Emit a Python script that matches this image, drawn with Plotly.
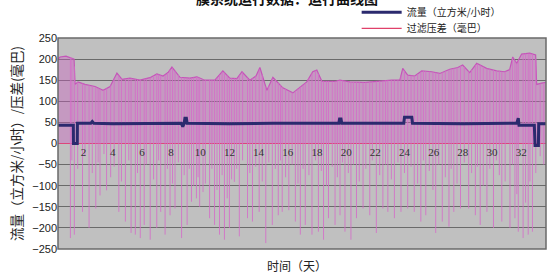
import numpy as np
import plotly.graph_objects as go

# ---- data ----
x_ticks = [2, 4, 6, 8, 10, 12, 14, 16, 18, 20, 22, 24, 26, 28, 30, 32]
y_ticks = [250, 200, 150, 100, 50, 0, -50, -100, -150, -200, -250]

flow_day = [0.25, 1.0, 1.30, 1.31, 1.57, 1.58, 2.5, 2.6, 2.7, 4.0, 6.0, 8.7, 8.8, 8.9, 8.95, 9.05,
            9.1, 12.0, 15.0, 19.5, 19.55, 19.65, 19.7, 23.95, 24.0, 24.5, 24.55, 28.0, 31.7, 31.75,
            31.8, 31.85, 32.9, 32.95, 33.18, 33.2, 33.7]
flow_val = [43, 43, 43, 0, 0, 48, 48, 52, 48, 47, 48, 48, 40, 48, 60, 60,
            48, 47, 48, 48, 58, 58, 48, 48, 62, 62, 48, 47, 48, 60,
            60, 43, 43, -5, -5, 47, 47]

dp_day = [0.25, 0.39, 0.8, 1.21, 1.35, 1.42, 1.62, 2.1, 2.79, 3.34, 3.82, 4.29, 4.64, 5.18, 5.87,
          6.55, 7.03, 7.45, 7.79, 8.06, 8.34, 8.61, 9.29, 9.77, 10.32, 11.0, 11.55, 12.03, 12.51,
          12.86, 13.4, 13.82, 14.09, 14.36, 14.57, 14.98, 15.66, 16.35, 16.83, 17.3, 17.71, 17.99,
          18.33, 19.22, 19.57, 20.25, 21.28, 22.31, 23.13, 23.68, 23.88, 24.22, 24.7, 25.18, 25.87,
          26.42, 27.1, 27.65, 27.99, 28.47, 28.95, 29.63, 30.32, 30.86, 31.21, 31.42, 31.69, 32.03,
          32.58, 32.99, 33.06, 33.4, 33.68]
dp_val = [200, 205, 207, 203, 200, 140, 146, 140, 135, 126, 135, 167, 152, 155, 150,
          156, 165, 160, 168, 181, 170, 157, 155, 158, 150, 150, 172, 155, 154,
          170, 150, 160, 180, 150, 126, 157, 132, 120, 134, 146, 170, 174,
          148, 147, 150, 146, 145, 148, 150, 150, 178, 162, 160, 172, 170,
          166, 176, 180, 186, 168, 190, 178, 172, 170, 175, 205, 190, 212,
          214, 210, 140, 143, 145]

spike_day = [1.1, 1.37, 1.93, 2.38, 2.84, 3.13, 3.58, 3.86, 4.42, 4.87, 5.26, 5.55, 5.89, 6.16,
             6.57, 7.02, 7.29, 7.59, 7.93, 8.27, 8.72, 9.1, 9.4, 9.74, 9.96, 10.19, 10.64, 10.98,
             11.32, 11.66, 12.0, 12.34, 12.68, 13.24, 13.58, 14.04, 14.49, 14.94, 15.35, 15.62,
             16.07, 16.52, 16.86, 17.2, 17.66, 18.1, 18.45, 18.79, 19.24, 19.58, 19.92, 20.33,
             20.71, 21.16, 21.62, 22.07, 22.52, 22.86, 23.31, 23.76, 24.22, 24.67, 25.12, 25.46,
             26.14, 26.59, 27.05, 27.38, 27.84, 28.4, 28.86, 29.19, 29.65, 30.1, 30.67, 31.23,
             31.57, 31.8, 32.13, 32.48, 32.77,
             1.2, 1.6, 2.1, 2.6, 3.0, 3.4, 4.1, 4.6, 5.1, 5.7, 6.3, 6.8, 7.15, 7.75, 8.1, 8.5,
             8.9, 9.25, 9.55, 9.85, 10.35, 10.8, 11.15, 11.5, 11.85, 12.15, 12.5, 12.9, 13.4,
             13.8, 14.25, 14.7, 15.15, 15.5, 15.85, 16.3, 16.7, 17.05, 17.45, 17.9, 18.3, 18.65,
             19.05, 19.4, 19.75, 20.15, 20.5, 20.9, 21.35, 21.8, 22.3, 22.7, 23.1, 23.55, 24.0,
             24.45, 24.9, 25.3, 25.7, 25.95, 26.35, 26.8, 27.2, 27.6, 28.1, 28.6, 29.0, 29.4,
             29.85, 30.3, 30.5, 30.9, 31.4, 31.7, 32.3, 32.6, 33.0, 33.3, 33.55]
spike_low = [-224, -216, -162, -200, -154, -123, -111, -80, -162, -185, -212, -216, -224, -193,
             -228, -200, -162, -216, -170, -154, -224, -193, -138, -130, -150, -115, -177, -193,
             -216, -228, -200, -91, -220, -177, -185, -162, -236, -193, -170, -162,
             -158, -185, -216, -193, -216, -209, -228, -177, -193, -170, -209, -228,
             -177, -154, -170, -212, -154, -162, -177, -162, -154, -162, -185, -170,
             -212, -185, -197, -162, -154, -154, -170, -193, -162, -200, -185, -200,
             -177, -209, -224, -216, -209,
             -40, -60, -30, -70, -45, -25, -55, -90, -40, -70, -50, -85, -40, -60, -95, -45,
             -75, -60, -100, -80, -95, -60, -110, -75, -130, -85, -60, -40, -70,
             -55, -90, -45, -60, -40, -80, -50, -95, -60, -75, -40, -65, -100,
             -55, -80, -45, -70, -50, -90, -60, -40, -75, -50, -85, -45, -70,
             -55, -95, -40, -65, -110, -50, -80, -60, -95, -45, -70, -55, -100,
             -60, -40, -75, -90, -50, -120, -140, -90, -70, -30, -50]

# spike segments start at the pressure curve and go down to the low value
spike_top = np.interp(spike_day, dp_day, dp_val)
sx, sy = [], []
for d, t, lo in zip(spike_day, spike_top, spike_low):
    sx += [d, d, None]
    sy += [t, lo, None]

fig = go.Figure()

# filled band under the pressure curve
fig.add_trace(go.Scatter(x=dp_day, y=dp_val, mode="lines", fill="tozeroy",
                         fillcolor="rgba(205,95,195,0.40)",
                         line=dict(color="#c455b8", width=1.2), showlegend=False,
                         hoverinfo="skip"))
# spikes
fig.add_trace(go.Scatter(x=sx, y=sy, mode="lines",
                         line=dict(color="rgba(212,110,200,0.85)", width=1),
                         showlegend=False, hoverinfo="skip"))
# flow
fig.add_trace(go.Scatter(x=flow_day, y=flow_val, mode="lines", name="流量（立方米/小时）",
                         line=dict(color="#2b2a6e", width=3), legend="legend"))
# legend entry for pressure difference
fig.add_trace(go.Scatter(x=[None], y=[None], mode="lines", name="过滤压差（毫巴）",
                         line=dict(color="#e0406a", width=1.3), legend="legend2"))

cjk = "Noto Sans CJK SC"
leg_common = dict(xanchor="left", yanchor="middle", bgcolor="rgba(255,255,255,0)",
                  font=dict(family=cjk, size=10, color="#222"), itemwidth=40)
fig.update_layout(
    width=548, height=273,
    margin=dict(l=58, r=2, t=38, b=24, autoexpand=False),
    paper_bgcolor="white",
    plot_bgcolor="#c0c0c0",
    showlegend=True,
    legend=dict(x=0.612, y=1.122, **leg_common),
    legend2=dict(x=0.612, y=1.046, **leg_common),
    xaxis=dict(range=[0.25, 33.7], tickvals=x_ticks, ticktext=[str(v) for v in x_ticks],
               showgrid=False, zeroline=False, showline=False, ticks="",
               anchor="free", position=0.5,
               tickfont=dict(family="Liberation Serif", size=11, color="#333"),
               title=None),
    yaxis=dict(range=[-250, 250], tickvals=y_ticks, showgrid=True, gridcolor="#6a6a6a",
               gridwidth=1, zeroline=True, zerolinecolor="#e0406a", zerolinewidth=1.2,
               layer="above traces", ticks="",
               tickfont=dict(family="Liberation Sans", size=11, color="#222"),
               title=dict(text="流量（立方米/小时）/压差(毫巴)", standoff=6,
                          font=dict(family=cjk, size=13.5, color="#222")),
               domain=[0, 1]),
    shapes=[dict(type="rect", xref="paper", yref="paper", x0=0, x1=1, y0=0, y1=1,
                 line=dict(color="#6a6a6a", width=1.5), layer="above")],
    annotations=[
        dict(text="时间（天）", xref="paper", yref="paper", x=0.49, y=-0.03,
             xanchor="center", yanchor="top", showarrow=False,
             font=dict(family=cjk, size=12, color="#222")),
        dict(text="<b>膜系统运行数据：运行曲线图</b>", xref="paper", yref="paper",
             x=0.47, y=1.133, xanchor="center", yanchor="bottom", showarrow=False,
             font=dict(family=cjk, size=14, color="#111")),
    ],
)

fig.write_html("out.html", config={"displayModeBar": False},
               post_script="document.body.style.margin='0';document.body.style.padding='0';")
